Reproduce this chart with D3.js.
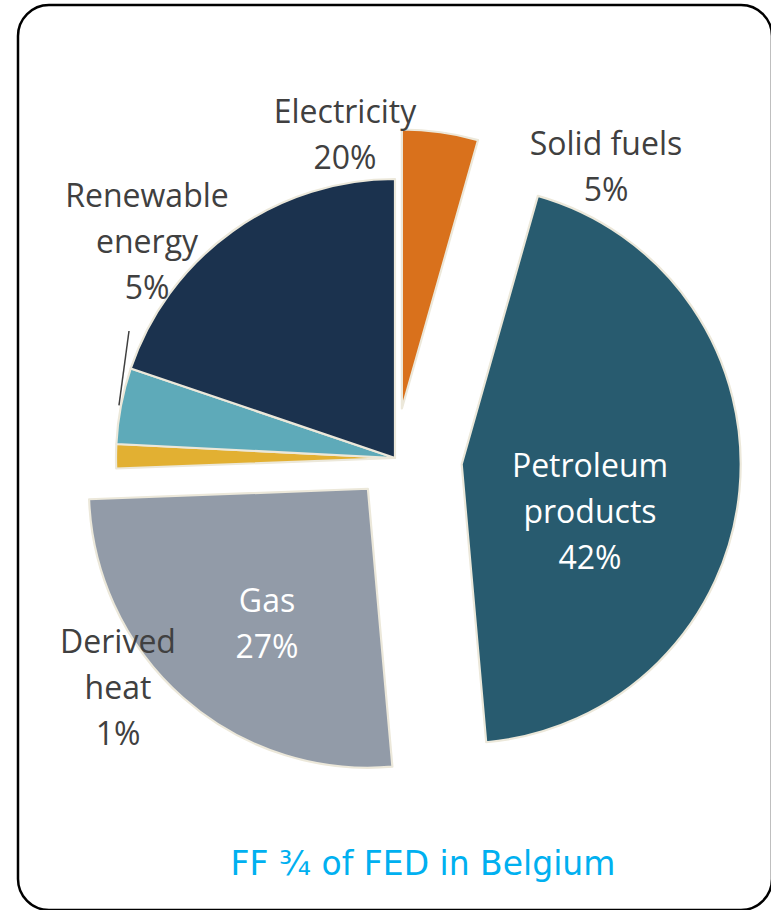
<!DOCTYPE html>
<html>
<head>
<meta charset="utf-8">
<script src="https://cdn.jsdelivr.net/npm/d3@7"></script>
<style>
  body { margin: 0; background: #fff; }
</style>
</head>
<body>
<svg id="chart" width="771" height="910"></svg>
<script>
const categories = ["Solid fuels", "Petroleum products", "Gas", "Derived heat", "Renewable energy", "Electricity"];
const shares = [4.4, 44.2, 25.8, 1.4, 4.4, 19.8];
const pctLabels = ["5%", "42%", "27%", "1%", "5%", "20%"];
const titleText = "FF \u00be of FED in Belgium";

// styles
const colors = ["#d9711c", "#285b6f", "#929ba8", "#e2b032", "#5eaab9", "#1b324e"];
const explode = [50, 67, 41, 0, 0, 0];

// where each category's label sits (offset from pie centre), as on the slide
const labelLayout = [
  {dx: 211,  dy: -303, wrap: false, fill: "#404040"},  // Solid fuels
  {dx: 195,  dy: 19,   wrap: true,  fill: "#ffffff"},  // Petroleum products
  {dx: -128, dy: 154,  wrap: false, fill: "#ffffff"},  // Gas
  {dx: -277, dy: 195,  wrap: true,  fill: "#404040"},  // Derived heat
  {dx: -248, dy: -251, wrap: true,  fill: "#404040"},  // Renewable energy
  {dx: -50,  dy: -335, wrap: false, fill: "#404040"}   // Electricity
];

const cx = 395, cy = 458, radius = 279;
const lineH = 46;

const svg = d3.select("#chart");

// rounded frame
svg.append("rect")
    .attr("x", 18).attr("y", 5)
    .attr("width", 754).attr("height", 905)
    .attr("rx", 31).attr("ry", 31)
    .attr("fill", "none")
    .attr("stroke", "#000")
    .attr("stroke-width", 2.5);

const pie = d3.pie().sort(null).value(d => d.v);
const arc = d3.arc().innerRadius(0).outerRadius(radius);

const data = categories.map((c, i) => ({name: c, v: shares[i], pct: pctLabels[i], i: i}));
const arcs = pie(data);

const g = svg.append("g")
    .attr("transform", `translate(${cx},${cy})`);

g.selectAll("path")
  .data(arcs)
  .join("path")
    .attr("d", arc)
    .attr("fill", d => colors[d.data.i])
    .attr("stroke", "#ece8da")
    .attr("stroke-width", 2.2)
    .attr("stroke-linejoin", "round")
    .attr("transform", d => {
      const mid = (d.startAngle + d.endAngle) / 2;
      const off = explode[d.data.i];
      return `translate(${Math.sin(mid) * off},${-Math.cos(mid) * off})`;
    });

// leader line for the renewable label
const ren = arcs[4];
const renMid = (ren.startAngle + ren.endAngle) / 2;
g.append("line")
    .attr("x1", -266).attr("y1", -127)
    .attr("x2", Math.sin(renMid) * (radius + 2))
    .attr("y2", -Math.cos(renMid) * (radius + 2))
    .attr("stroke", "#404040")
    .attr("stroke-width", 1.5);

// labels
const label = g.append("g")
    .attr("text-anchor", "middle")
    .style("font-family", "'Open Sans', Lato, sans-serif")
    .style("font-size", "32px");

arcs.forEach(d => {
  const L = labelLayout[d.data.i];
  const lines = (L.wrap ? d.data.name.split(" ") : [d.data.name]).concat([d.data.pct]);
  const t = label.append("text")
      .attr("fill", L.fill);
  lines.forEach((s, k) => {
    t.append("tspan")
        .attr("x", L.dx)
        .attr("y", L.dy + k * lineH)
        .text(s);
  });
});

// title
svg.append("text")
    .attr("x", 423)
    .attr("y", 875)
    .attr("text-anchor", "middle")
    .attr("fill", "#00b0f0")
    .style("font-family", "'DejaVu Sans', sans-serif")
    .style("font-size", "33px")
    .text(titleText);
</script>
</body>
</html>
